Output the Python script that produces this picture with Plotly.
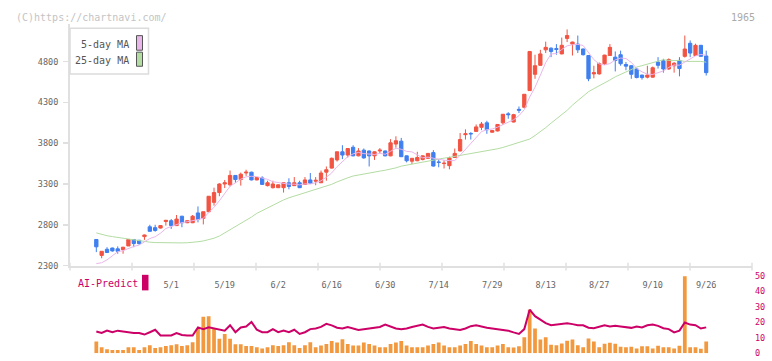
import plotly.graph_objects as go

# ---------------- data ----------------
tick_idx = [14, 24, 34, 44, 54, 64, 74, 84, 94, 104, 114]
tick_labels = ["5/1", "5/19", "6/2", "6/16", "6/30", "7/14", "7/29", "8/13", "8/27", "9/10", "9/26"]

opens = [2620, 2425, 2500, 2515, 2505, 2495, 2540, 2620, 2610, 2655, 2775, 2765, 2760, 2840, 2850, 2790, 2905, 2825, 2825, 2945,
         2880, 2960, 3075, 3195, 3300, 3290, 3405, 3355, 3435, 3445, 3350, 3375, 3280, 3255, 3255, 3255, 3315, 3280, 3315, 3295,
         3350, 3335, 3315, 3445, 3495, 3595, 3695, 3655, 3750, 3645, 3715, 3705, 3645, 3705, 3705, 3645, 3790, 3825, 3645, 3580,
         3585, 3600, 3615, 3685, 3570, 3550, 3525, 3625, 3705, 3905, 3920, 3945, 3995, 4050, 3935, 3950, 4050, 4160, 4060, 4215,
         4240, 4445, 4645, 4755, 4945, 4965, 4960, 4895, 5085, 5015, 5015, 4955, 4875, 4650, 4650, 4775, 4875, 4855, 4885, 4765,
         4750, 4710, 4635, 4610, 4610, 4795, 4810, 4710, 4750, 4815, 4865, 5025, 4875, 5000, 4870]
highs = [2625, 2475, 2525, 2520, 2535, 2530, 2625, 2625, 2615, 2680, 2800, 2800, 2795, 2860, 2870, 2920, 2910, 2855, 2920, 3025,
         2960, 3150, 3255, 3310, 3350, 3465, 3410, 3440, 3475, 3450, 3385, 3395, 3340, 3340, 3295, 3320, 3370, 3385, 3340, 3385,
         3435, 3385, 3465, 3515, 3625, 3695, 3775, 3740, 3775, 3740, 3735, 3710, 3700, 3740, 3710, 3850, 3885, 3865, 3650, 3615,
         3695, 3650, 3680, 3715, 3605, 3590, 3635, 3735, 3925, 3970, 3935, 4030, 4060, 4075, 3960, 4035, 4155, 4180, 4160, 4250,
         4400, 4930, 4885, 4945, 5045, 4975, 5015, 5095, 5195, 5045, 5120, 4960, 4880, 4750, 4790, 4885, 5015, 4925, 4935, 4795,
         4755, 4725, 4640, 4750, 4740, 4855, 4835, 4840, 4795, 4855, 5120, 5060, 5020, 5005, 4935]
lows = [2465, 2390, 2455, 2470, 2445, 2445, 2540, 2525, 2555, 2615, 2720, 2715, 2755, 2790, 2750, 2790, 2770, 2820, 2820, 2830,
        2805, 2955, 3035, 3150, 3250, 3270, 3315, 3280, 3400, 3345, 3345, 3290, 3270, 3245, 3250, 3195, 3235, 3275, 3250, 3290,
        3305, 3285, 3315, 3340, 3490, 3575, 3605, 3625, 3640, 3640, 3610, 3515, 3595, 3675, 3640, 3640, 3745, 3630, 3565, 3545,
        3580, 3590, 3610, 3515, 3505, 3490, 3480, 3620, 3700, 3845, 3845, 3940, 3960, 3915, 3930, 3945, 4025, 4100, 4055, 4170,
        4225, 4440, 4590, 4750, 4905, 4855, 4885, 4890, 5040, 4875, 4905, 4875, 4560, 4595, 4640, 4760, 4870, 4680, 4750, 4695,
        4590, 4595, 4580, 4595, 4605, 4715, 4665, 4700, 4665, 4620, 4850, 4855, 4870, 4860, 4630]
closes = [2530, 2475, 2460, 2480, 2475, 2525, 2620, 2570, 2570, 2675, 2720, 2730, 2790, 2855, 2790, 2870, 2825, 2850, 2905, 2865,
          2960, 3150, 3195, 3300, 3315, 3405, 3355, 3420, 3445, 3350, 3380, 3295, 3315, 3300, 3290, 3315, 3270, 3315, 3255, 3350,
          3310, 3345, 3435, 3475, 3615, 3695, 3655, 3735, 3645, 3705, 3620, 3645, 3695, 3715, 3645, 3805, 3830, 3635, 3585, 3615,
          3625, 3645, 3675, 3520, 3565, 3555, 3620, 3675, 3845, 3915, 3915, 4000, 4035, 3965, 3955, 4030, 4155, 4150, 4150, 4205,
          4400, 4925, 4750, 4895, 4975, 4925, 4950, 5000, 5120, 5040, 4945, 4885, 4590, 4665, 4775, 4880, 4975, 4815, 4775, 4745,
          4645, 4605, 4605, 4635, 4725, 4755, 4710, 4825, 4780, 4715, 4955, 4905, 5000, 4865, 4665]

ma5 = [2324, 2335, 2370, 2420, 2470, 2483, 2512, 2534, 2552, 2592, 2631, 2653, 2697, 2754, 2777, 2807, 2826, 2838, 2848, 2863,
       2881, 2946, 3015, 3094, 3184, 3273, 3314, 3359, 3388, 3395, 3390, 3378, 3357, 3328, 3316, 3303, 3298, 3298, 3289, 3301,
       3300, 3315, 3339, 3383, 3436, 3513, 3575, 3635, 3669, 3687, 3672, 3670, 3662, 3676, 3664, 3701, 3738, 3726, 3700, 3694,
       3658, 3621, 3629, 3616, 3606, 3592, 3587, 3587, 3652, 3722, 3794, 3870, 3942, 3966, 3974, 3997, 4028, 4051, 4088, 4138,
       4212, 4366, 4486, 4635, 4789, 4894, 4899, 4949, 4994, 5007, 5011, 4998, 4916, 4825, 4772, 4759, 4777, 4822, 4844, 4838,
       4791, 4717, 4675, 4647, 4643, 4665, 4686, 4730, 4759, 4757, 4797, 4836, 4871, 4888, 4878]
ma25 = [2701, 2682, 2666, 2655, 2645, 2635, 2624, 2612, 2602, 2594, 2587, 2582, 2580, 2578, 2577, 2577, 2578, 2580, 2584, 2592,
        2602, 2615, 2635, 2662, 2700, 2740, 2775, 2810, 2850, 2895, 2940, 2975, 3010, 3045, 3075, 3105, 3131, 3152, 3173, 3189,
        3212, 3229, 3250, 3274, 3296, 3326, 3356, 3376, 3398, 3411, 3427, 3436, 3447, 3458, 3469, 3481, 3498, 3519, 3532, 3543,
        3556, 3569, 3584, 3598, 3609, 3617, 3627, 3638, 3648, 3663, 3675, 3683, 3697, 3709, 3722, 3732, 3748, 3769, 3787, 3804,
        3827, 3851, 3894, 3939, 3991, 4046, 4098, 4150, 4203, 4267, 4326, 4382, 4432, 4469, 4502, 4536, 4575, 4614, 4645, 4677,
        4709, 4733, 4751, 4770, 4789, 4810, 4824, 4815, 4818, 4814, 4803, 4805, 4803, 4803, 4793]

ai_bars = [7.7, 3.9, 2.7, 2.1, 2.1, 2.1, 3.9, 3.9, 2.1, 3.9, 5.2, 3.5, 3.9, 4.7, 5.2, 5.8, 4.7, 5.2, 7.1, 15.6,
           23.5, 23.9, 15.6, 9.4, 12.5, 9.4, 5.8, 5.8, 4.7, 4.7, 3.9, 3.1, 3.9, 5.2, 4.7, 5.2, 7.1, 5.2, 3.5, 5.2,
           7.1, 3.9, 5.0, 6.0, 8.0, 7.0, 9.0, 6.0, 5.0, 5.0, 7.0, 6.0, 5.0, 4.0, 4.0, 6.0, 7.0, 8.0, 5.0, 4.0,
           4.0, 4.0, 5.0, 6.0, 7.0, 5.0, 4.0, 4.0, 5.0, 6.0, 8.0, 6.0, 5.0, 4.0, 4.0, 5.0, 6.0, 4.0, 3.7, 4.5,
           10.4, 28.1, 16.0, 8.9, 10.4, 5.6, 5.2, 6.4, 8.1, 8.9, 5.2, 3.9, 9.6, 7.7, 3.9, 6.2, 6.9, 6.2, 4.3, 3.9,
           4.3, 3.2, 4.5, 4.5, 3.2, 4.9, 3.9, 3.9, 3.2, 4.9, 49.6, 3.9, 3.9, 2.9, 7.7]
ai_line = [14.1, 13.1, 14.6, 13.6, 14.6, 14.1, 13.6, 13.1, 13.1, 12.1, 13.6, 15.2, 11.5, 11.5, 11.5, 13.1, 11.8, 11.5, 11.5, 16.7,
           15.6, 16.7, 16.0, 15.6, 14.6, 18.1, 13.6, 16.7, 17.3, 20.2, 15.2, 13.6, 13.6, 15.6, 13.6, 14.6, 13.6, 15.2, 12.5, 13.6,
           15.6, 16.0, 17.0, 19.0, 18.0, 16.5, 16.0, 17.0, 16.0, 15.0, 15.5, 16.0, 16.5, 17.0, 18.5, 17.0, 16.0, 15.5, 16.0, 17.0,
           18.0, 18.5, 17.0, 16.0, 16.5, 17.0, 16.0, 15.5, 15.0, 16.0, 17.5, 18.0, 17.0, 16.5, 16.0, 15.5, 15.0, 14.6, 13.5, 12.5,
           15.6, 28.1, 23.9, 21.9, 19.4, 18.1, 18.5, 19.0, 19.4, 18.8, 18.1, 18.1, 16.5, 16.2, 17.0, 18.1, 17.3, 17.7, 17.3, 16.7,
           16.4, 17.3, 16.7, 18.1, 18.5, 17.7, 16.2, 15.6, 13.5, 14.6, 19.8, 18.5, 18.1, 16.0, 16.7]

idx = list(range(len(closes)))

# ---------------- geometry helpers (pixel -> paper) ----------------
W, H = 772, 361
ML, MR = 70, 20
PW = W - ML - MR


def px(x):
    return (x - ML) / PW


def py(y):
    return (H - y) / H


FONT = "DejaVu Sans Mono"
RED = "#f25443"
BLUE = "#3f7ff0"
MAG = "#cc0066"
AXC = "#e0e0e0"

fig = go.Figure()

fig.add_trace(go.Scatter(x=idx, y=ma25, mode="lines", line=dict(color="#b3dca3", width=1),
                         xaxis="x", yaxis="y", hoverinfo="skip"))
fig.add_trace(go.Scatter(x=idx, y=ma5, mode="lines", line=dict(color="#e9b6ea", width=1),
                         xaxis="x", yaxis="y", hoverinfo="skip"))
fig.add_trace(go.Candlestick(
    x=idx, open=opens, high=highs, low=lows, close=closes,
    increasing=dict(line=dict(color=RED, width=1), fillcolor=RED),
    decreasing=dict(line=dict(color=BLUE, width=1), fillcolor=BLUE),
    whiskerwidth=0, xaxis="x", yaxis="y", hoverinfo="skip"))

fig.add_trace(go.Bar(x=idx, y=ai_bars, marker=dict(color="#f2983e", line=dict(width=0)),
                     width=0.7, xaxis="x2", yaxis="y2", hoverinfo="skip"))
fig.add_trace(go.Scatter(x=idx, y=ai_line, mode="lines", line=dict(color=MAG, width=2),
                         xaxis="x2", yaxis="y2", hoverinfo="skip"))

xr = [-4.92, 122.56]

shapes = []
# custom x-axis tick marks (11 equal divisions)
for k in range(12):
    xx = 70 + 62 * k
    shapes.append(dict(type="line", xref="paper", yref="paper", x0=px(xx), x1=px(xx),
                       y0=py(265), y1=py(273), line=dict(color=AXC, width=1.5), layer="above"))
# legend box and swatches
shapes.append(dict(type="rect", xref="paper", yref="paper", x0=px(70), x1=px(148.5), y0=py(71), y1=py(24),
                   line=dict(color="#dcdcdc", width=1.5), fillcolor="white", layer="above"))
shapes.append(dict(type="rect", xref="paper", yref="paper", x0=px(136.5), x1=px(142.5), y0=py(46.5), y1=py(31.5),
                   line=dict(color="#555555", width=1), fillcolor="#e9b6ea", layer="above"))
shapes.append(dict(type="rect", xref="paper", yref="paper", x0=px(136.5), x1=px(142.5), y0=py(63), y1=py(48.5),
                   line=dict(color="#555555", width=1), fillcolor="#b3dca3", layer="above"))
# AI-Predict marker
shapes.append(dict(type="rect", xref="paper", yref="paper", x0=px(142), x1=px(148.5), y0=py(293.5), y1=py(277.5),
                   line=dict(width=0), fillcolor=MAG, layer="above"))

annotations = [
    dict(text="(C)https://chartnavi.com/", x=px(14), y=py(12.5), xref="paper", yref="paper",
         xanchor="left", yanchor="middle", showarrow=False, font=dict(family=FONT, size=10, color="#c4c4c4")),
    dict(text="1965", x=px(757), y=py(12.5), xref="paper", yref="paper",
         xanchor="right", yanchor="middle", showarrow=False, font=dict(family=FONT, size=10, color="#aaaaaa")),
    dict(text="5-day MA", x=px(130.5), y=py(40.5), xref="paper", yref="paper",
         xanchor="right", yanchor="middle", showarrow=False, font=dict(family=FONT, size=10, color="#555555")),
    dict(text="25-day MA", x=px(130.5), y=py(57.5), xref="paper", yref="paper",
         xanchor="right", yanchor="middle", showarrow=False, font=dict(family=FONT, size=10, color="#555555")),
    dict(text="AI-Predict", x=px(75.5), y=py(286), xref="paper", yref="paper",
         xanchor="left", yanchor="middle", showarrow=False, font=dict(family=FONT, size=10, color=MAG)),
]

fig.update_layout(
    width=W, height=H,
    margin=dict(l=ML, r=MR, t=0, b=0),
    paper_bgcolor="white", plot_bgcolor="white",
    showlegend=False,
    hovermode=False,
    boxgap=0.12,
    font=dict(family=FONT, size=9, color="#666666"),
    xaxis=dict(domain=[0, 1], range=xr, anchor="y",
               tickvals=tick_idx, ticktext=tick_labels, ticks="",
               tickfont=dict(family=FONT, size=8.5, color="#666666"), ticklabelstandoff=10,
               showgrid=False, zeroline=False, showline=True, linecolor=AXC, linewidth=2,
               rangeslider=dict(visible=False), fixedrange=True),
    yaxis=dict(domain=[py(268), py(20)], range=[2300, 5256], anchor="x",
               tickvals=[2300, 2800, 3300, 3800, 4300, 4800],
               ticks="outside", ticklen=5, tickcolor=AXC, tickwidth=1.5,
               tickfont=dict(family=FONT, size=8.5, color="#666666"), ticklabelstandoff=3,
               showgrid=False, zeroline=False, showline=True, linecolor=AXC, linewidth=2, fixedrange=True),
    xaxis2=dict(domain=[0, 1], range=xr, anchor="y2", visible=False, fixedrange=True),
    yaxis2=dict(domain=[py(358.3), py(278.3)], range=[0, 50], anchor="x2", side="right",
                tickvals=[0, 10, 20, 30, 40, 50], ticks="", showline=False, showgrid=False, zeroline=False,
                tickfont=dict(family=FONT, size=8.5, color=MAG), ticklabelstandoff=2, fixedrange=True),
    shapes=shapes,
    annotations=annotations,
)

fig.write_html("out.html",
               config={"displayModeBar": False, "staticPlot": True},
               post_script="document.body.style.margin='0px';document.body.style.padding='0px';")
